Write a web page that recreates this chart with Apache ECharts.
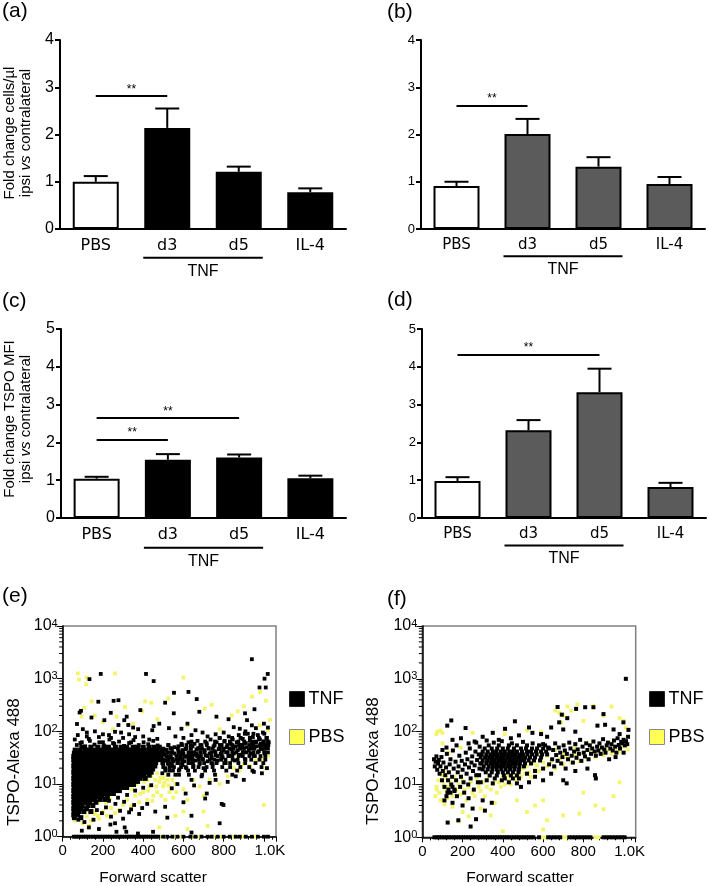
<!DOCTYPE html>
<html><head><meta charset="utf-8">
<script src="https://cdn.jsdelivr.net/npm/echarts@6/dist/echarts.min.js"></script>
<style>html,body{margin:0;padding:0;background:#fff}#c{width:709px;height:886px}</style>
</head><body><div id="c"></div>
<script>
// ---------------- DATA ----------------
const categories = ['PBS', 'd3', 'd5', 'IL-4'];
const aMean = [1.00, 2.14, 1.21, 0.78];
const aSem  = [0.12, 0.41, 0.11, 0.08];
const bMean = [0.91, 2.01, 1.32, 0.95];
const bSem  = [0.09, 0.32, 0.20, 0.15];
const cMean = [1.04, 1.54, 1.60, 1.05];
const cSem  = [0.05, 0.15, 0.08, 0.07];
const dMean = [0.98, 2.32, 3.33, 0.82];
const dSem  = [0.10, 0.27, 0.62, 0.11];
// significance: [fromCategory, toCategory, height]
const aSig = [['PBS', 'd3', 2.81]];
const bSig = [['PBS', 'd3', 2.60]];
const cSig = [['PBS', 'd3', 2.08], ['PBS', 'd5', 2.64]];
const dSig = [['PBS', 'd5', 4.32]];
const barTicksAB = [0, 1, 2, 3, 4];
const barTicksCD = [0, 1, 2, 3, 4, 5];
const logMinorTicks = [2,3,4,5,6,7,8,9,20,30,40,50,60,70,80,90,200,300,400,500,600,700,800,900,2000,3000,4000,5000,6000,7000,8000,9000];

// (e) TNF dense core, rows of [y, [x...]]
const eTnfRows = [
 [50, [95,140,175,205,228,262,290,318,350,372,400,430,455,480]],
 [44, [62,85,110,128,150,170,192,212,235,255,278,300,322,340,362,385,405,428,448,470,495]],
 [38.5, [58,75,95,115,133,152,172,190,210,228,248,268,288,306,325,345,365,384,403,422,442,460,480,500]],
 [33.5, [55,72,90,108,126,145,163,182,200,218,237,256,275,293,312,330,350,368,387,405,424,443,462,485]],
 [29, [55,70,88,105,123,141,160,178,196,215,233,252,270,289,307,326,344,363,381,400,418,437,456,478]],
 [25.5, [57,74,92,110,128,146,165,183,201,220,238,257,275,294,312,331,349,368,386,405,423,442,462]],
 [22, [55,71,89,107,125,143,161,180,198,216,235,253,272,290,309,327,346,364,383,401,420,440,458]],
 [19.3, [57,74,92,110,128,146,164,183,201,219,238,256,275,293,312,330,349,367,386,405,425,447]],
 [16.8, [55,72,90,108,126,144,162,180,198,217,235,254,272,291,309,328,346,365,383,402,421,440]],
 [14.7, [57,74,92,110,128,146,164,182,200,219,237,256,274,293,311,330,348,367,386,404,430]],
 [12.8, [55,72,90,108,126,144,162,180,198,216,235,253,272,290,309,327,346,365,385,410]],
 [11.2, [57,74,92,110,128,146,164,182,200,219,237,256,274,293,312,332,352,372]],
 [9.8, [55,72,90,108,126,144,162,180,198,216,235,253,272,290,310,330,352]],
 [8.6, [57,74,92,110,128,146,164,182,200,219,237,256,275,296,318]],
 [7.5, [55,72,90,108,126,144,162,180,198,216,236,258,282]],
 [6.6, [57,74,92,110,128,146,164,184,205,228,252]],
 [5.8, [55,72,90,108,128,150,172,196,222]],
 [5.1, [57,74,94,115,138,160,186,210]],
 [4.5, [55,70,88,112,135,165]],
 [3.9, [57,75,97,125,150]],
 [3.4, [55,72,92,118]],
 [3.0, [57,80,105,140]],
 [2.6, [55,74]],
 [2.3, [58,90]]
];
// (e) TNF band to the right of the core, rows of [y, [x...]]
const eTnfBandRows = [
 [90, [905,948,1002]],
 [75, [780,842,884,930,975,1012]],
 [64, [640,708,757,803,831,873,902,944,962,997,1020]],
 [55, [525,593,637,684,716,755,781,818,843,876,895,928,947,981,998,1022]],
 [47, [500,543,572,613,637,671,692,725,745,778,797,829,849,881,901,933,953,985,1005]],
 [40, [495,523,545,578,597,631,652,685,705,738,759,791,812,843,863,895,915,948,969,1001,1020]],
 [34, [492,518,537,568,587,618,637,668,687,719,739,771,791,823,843,875,895,928,949,983,1007]],
 [29, [498,525,545,575,595,625,645,677,697,731,753,787,809,845,869,908,937,978,1007]],
 [25, [495,523,542,573,593,625,647,681,703,739,765,803,832,873,907,958,997]],
 [21, [500,531,553,588,611,648,675,715,745,793,832,883,927,988]],
 [18, [510,548,577,623,657,708,752,813,867,943]],
 [15, [525,578,627,693,757,843]]
];
const eTnfBand = [[490,30],[495,42],[495,16],[500,24],[505,36],[505,28],[510,20],[515,45],[515,33],[520,28],[525,55],[525,24],[530,18],[535,32],[535,48],[540,40],[545,22],[545,30],[550,27],[555,50],[555,38],[560,15],[565,35],[565,29],[570,25],[575,42],[575,52],[580,19],[585,30],[585,36],[590,58],[595,23],[595,44],[600,38],[605,27],[605,33],[610,46],[615,20],[615,55],[620,33],[625,62],[625,39],[630,25],[635,40],[635,48],[640,30],[645,52],[645,34],[650,22],[655,36],[655,58],[660,28],[665,45],[665,38],[670,66],[675,33],[675,48],[680,24],[685,40],[690,55],[695,30],[700,20],[705,44],[710,35],[715,60],[720,27],[725,48],[730,38],[735,70],[740,31],[745,24],[750,52],[755,42],[760,35],[765,62],[770,28],[775,46],[780,75],[785,38],[790,55],[795,32],[800,44],[805,66],[810,25],[815,50],[820,40],[825,80],[830,34],[835,58],[840,46],[845,70],[850,38],[855,28],[860,52],[865,62],[870,44],[875,85],[880,36],[885,55],[890,48],[895,72],[900,40],[905,30],[910,60],[915,50],[920,90],[925,44],[930,66],[935,38],[940,56],[945,78],[950,48],[955,34],[960,62],[965,52],[970,85],[975,42],[980,70],[985,58],[990,46],[995,95],[1000,64],[1005,38],[1010,55],[1015,75],[1020,48],[1024,62]];
const eTnfSparse = [[940,2340],[189,1230],[133,980],[414,1230],[452,900],[1019,1230],[1003,1000],[1009,680],[978,680],[625,560],[553,540],[666,410],[277,390],[253,380],[177,365],[509,350],[386,253],[679,235],[239,225],[91,245],[84,228],[552,220],[953,263],[906,220],[916,163],[71,138],[143,183],[207,163],[277,132],[452,126],[318,190],[306,163],[326,132],[350,118],[375,110],[445,105],[480,140],[528,115],[590,112],[620,140],[660,105],[695,95],[764,190],[824,170],[850,120],[880,112],[908,100],[940,130],[960,115],[1000,140],[1020,118],[100,110],[120,95],[160,100],[180,78],[230,85],[260,98],[300,75],[330,88],[400,80],[430,70],[470,72],[560,80],[600,75],[640,85],[720,80],[760,88],[800,95],[130,72],[75,85],[95,62],[200,62],[250,60],[340,62],
 [70,55],[88,60],[112,52],[135,66],[158,56],[182,62],[205,54],[232,70],[256,58],[280,64],[305,53],[330,60],[352,68],[378,55],[402,62],[425,57],[450,66],[472,54],[120,80],[240,75],[360,78],[60,70],[200,88],[290,95],
 [170,3.2],[195,2.8],[215,3.6],[240,2.4],[262,4.2],[285,3.1],[305,4.6],[330,2.9],[355,4],[395,3.5],[230,4.8],[275,5.5],[320,6.2],[360,7.5],[400,8.5],[440,9.5],
 [509,3.7],[542,8.3],[611,6.6],[653,9.4],[716,6.6],[799,4],[708,5.3],[790,4.2],[600,4.5],[570,10],[640,12],[690,14],[730,10.5],[760,12],[820,11],[860,14],[900,12],[950,17],[990,16],[1015,20],[780,1.8],[640,2.5],[520,2.3],[460,3],[420,4.2],[380,2.7],[340,3.3],[300,2.2],[260,1.8],[78,2.1],[108,1.9],[153,2.1],[267,1.24],[316,1.24],[374,1.15],[449,1.24],[308,1.5],[237,1.7],[180,1.4],[130,1.5],[95,1.3],[640,1.2]];
const eTnfFloor = [55,67,79,91,103,115,127,139,151,163,175,187,199,211,223,235,247,259,271,283,295,307,319,331,343,355,367,379,391,403,415,427,439,451,463,475,500,520,545,570,600,635,660,690,720,740,770,800,830,860,880,910,940,970,1000,1020];
const ePbs = [[75,1260],[81,960],[119,1050],[116,780],[260,1260],[600,1050],[410,370],[440,350],[144,370],[108,280],[94,190],[525,420],[268,190],[940,455],[981,560],[1030,165],[706,270],[740,320],[840,200],[900,300],[870,240],[1010,380],[395,240],[310,290],[160,200],[200,150],[350,140],[470,170],[250,110],[620,130],[780,110],[1020,105],[980,130],
 [480,11],[500,9],[520,12],[540,8],[560,10],[470,7],[490,6],[510,5],[530,7],[550,5.5],[430,9],[450,6],[420,5],[400,7],[380,4.5],[360,6],[340,3.8],[320,5],[300,4],[280,3.2],[260,2.8],[240,3.5],[220,2.5],[200,3],[180,2.2],[160,2.7],[140,2.0],[120,2.4],[100,1.8],[90,3.2],[70,2.5],[130,1.6],[600,8],[620,5],[650,12],[680,9],[700,6],[730,12],[760,15],[780,10],[820,14],[850,20],[880,18],[900,24],[930,22],[960,28],[990,30],[1010,20],[1020,35],[840,30],[870,35],[910,40],[950,36],[980,45],[1000,4],[700,3],[600,3],[560,2.5],[480,1.5],[620,1.4],[720,1.6],
 [440,14],[470,16],[460,12],[500,13],[520,15],[420,12],[65,4],[80,3.6],[100,4.8],[120,3.3],[140,4.2],[160,5.5],[180,4.6],[200,6],[215,4.4],[235,5.2],[60,2.0],[85,2.3],[110,2.9],[150,3.0],[175,2.5],
 [345,8],[365,10],[385,6.5],[405,11],[425,7.5],[445,4.8],[465,9],[485,13],[505,10.5],[525,9.5],[545,12],[565,7],
 [480,1],[510,1],[560,1],[590,1],[640,1],[680,1],[750,1],[790,1],[850,1],[890,1],[960,1]];

// (f)
const fTnfRows = [
 [55, [330,380,430,470,520,580,610]],
 [48, [310,345,372,400,425,455,490,515,545,570,600,630]],
 [42, [300,325,350,368,390,410,432,450,470,495,520,540,565,590,615]],
 [37, [295,318,338,356,374,392,410,428,446,464,482,500,522,545,568,595,620]],
 [32.5, [290,312,332,350,368,386,404,422,440,458,476,494,512,535,560,590]],
 [28.5, [300,322,342,360,378,396,414,432,450,468,486,505,528,555,585]],
 [25, [295,318,338,356,374,392,410,428,446,465,485,510,540]],
 [22, [305,330,350,368,386,404,422,440,460,482,505]],
 [19.3, [300,325,348,370,392,414,436,458,480]],
 [17, [315,345,375,400,425,450,478]],
 [14.8, [335,370,405,440,470]],
 [13, [360,410,450]]
];
const fTnfSparse = [[58,30],[62,22],[66,27],[70,34],[74,19],[78,25],[82,29],[86,16],[90,22],[95,33],[98,12],[102,18],[105,26],[110,9],[114,15],[118,21],[122,38],[125,7],[128,12],[132,17],[136,24],[140,30],[144,10],[148,14],[152,44],[156,20],[160,8],[165,27],[168,12],[172,6],[176,17],[180,22],[184,35],[188,9],[192,14],[196,28],[200,19],[205,11],[208,7],[212,24],[216,40],[220,16],[224,30],[228,10],[232,21],[236,48],[240,13],[244,26],[248,34],[252,18],[256,8],[260,23],[264,42],[268,15],[272,29],[276,11],[280,37],[284,20],[288,25],[130,8],[140,7],[150,9],[120,6],[160,7.5],[150,4.5],[110,5],
 [126,1.9],[179,2.1],[240,1.6],[267,2.2],[311,3.2],[345,4.5],[250,3.5],[200,4],[300,5],[230,5.5],
 [645,30],[650,45],[655,22],[660,60],[665,36],[672,28],[678,50],[685,40],[690,25],[696,33],[702,55],[708,44],[712,20],[718,38],[724,30],[730,62],[736,48],[742,35],[748,26],[754,42],[760,58],[766,32],[772,46],[778,38],[784,70],[790,28],[796,52],[802,40],[808,34],[814,60],[820,45],[826,30],[832,55],[838,38],[844,48],[850,65],[856,42],[862,35],[868,52],[874,44],[880,60],[886,38],[892,50],[898,72],[904,46],[910,40],[916,55],[922,62],[928,30],[934,48],[940,58],[946,44],[952,68],[958,52],[964,40],[970,75],[976,56],[982,48],[988,64],[994,60],[1000,70],[1006,55],[1012,66],[1018,58],[1022,80],
 [700,12],[717,10.5],[858,15],[862,13],[760,18],[820,20],[640,16],[600,12],[560,14],[530,11],[490,9],[470,10.5],[1000,40],[960,33],
 [268,62],[285,52],[320,68],[355,62],[395,66],[445,60],[500,64],[548,60],[600,58],[625,50],[282,15],[290,11],[320,12],[350,10.5],[395,12],[430,11],[480,13],[520,16],[560,18],[600,20],[630,24],
 [1011,1000],[672,293],[693,210],[764,270],[809,290],[850,290],[900,215],[908,135],[999,150],[1024,108],[124,130],[144,163],[215,117],[460,157],[411,113],[530,120],[547,95],[192,75],[680,150],[720,180],[640,120],[700,110],[760,100],[590,90],[620,80],[480,85],[440,75],[380,70],[350,95],[300,80],[260,65],[230,60],[170,55],[120,50],[100,45],[150,70],[870,130],[950,110],[980,90]];
const fTnfFloor = [60,72,84,96,108,120,132,144,156,168,180,192,204,216,228,240,252,264,276,288,300,312,324,336,348,360,372,384,396,408,420,432,444,456,468,480,492,504,516,528,540,552,580,625,640,655,670,685,730,745,760,775,790,805,820,835,900,915,930,945,960,975,990,1005];
const fPbs = [[65,6],[70,9],[80,12],[85,7],[95,15],[100,5],[105,10],[110,17],[115,8],[120,13],[125,5.5],[130,9],[140,11],[150,6],[160,14],[170,8],[180,10],[190,6.5],[200,12],[210,8],[220,5],[230,9],[240,11],[250,7],[260,6],[270,13],[280,9],[290,7.5],[300,11],[310,6],[320,9],[330,14],[340,8],[350,10],[360,12],[370,7],[380,11],[390,9],[400,13],[410,10],[420,15],[430,12],[440,10],[450,16],[460,13],[470,11],[480,18],[490,14],[500,20],[510,16],[520,22],[530,17],[540,14],[550,25],[560,19],[570,23],[580,18],[600,26],[620,22],[640,28],[660,20],[680,30],[700,24],[720,32],[740,26],[760,35],[780,28],[800,38],[820,30],[840,40],[860,33],[880,42],[900,36],[920,45],[940,38],[960,48],[980,42],[1000,52],[1020,46],
 [70,90],[75,100],[100,60],[130,40],[190,50],[250,95],[380,70],[410,90],[520,105],[590,100],[660,250],[680,230],[700,200],[690,150],[720,300],[740,250],[770,330],[800,160],[850,310],[900,200],[940,300],[980,180],[1000,160],[1010,120],[90,105],[100,95],
 [180,2.0],[400,1.3],[600,1.4],[290,3.5],[340,2.6],[360,4.5],[470,5],[520,3],[560,4],[600,5],[620,2.1],[700,2.6],[780,2.8],[800,7],[860,4],[900,3.4],[950,6],[980,11],[200,3],[230,2.5],[150,3.8],[110,4.2],[90,5],[72,8],
 [420,30],[450,24],[500,35],[540,28],[580,40],[620,35],[660,45],[700,38],[760,50],[820,60],[880,55],[940,60],[1000,62],
 [595,1],[610,1],[700,1],[715,1],[860,1],[875,1]];

// ---------------- HELPERS ----------------
const FONT = 'Liberation Sans';
const rowsToPts = rows => rows.flatMap(r => r[1].map(x => [x, r[0]]));
const floorPts = xs => xs.map(x => [x, 1]);
const eTnfCore = rowsToPts(eTnfRows);
const eTnf = rowsToPts(eTnfBandRows).concat(eTnfBand, eTnfSparse, floorPts(eTnfFloor));
const fTnf = rowsToPts(fTnfRows).concat(fTnfSparse, floorPts(fTnfFloor));

const grids = [
  {left: 60, top: 40, width: 286, height: 189},
  {left: 421, top: 40, width: 284, height: 189},
  {left: 61, top: 329, width: 285, height: 189},
  {left: 422, top: 329, width: 284, height: 189},
  {left: 62.7, top: 626, width: 213.3, height: 210.7, show: true, borderColor: '#808080', borderWidth: 1.5},
  {left: 422.3, top: 626, width: 213.4, height: 211.3, show: true, borderColor: '#808080', borderWidth: 1.5}
];

function catX(i, fs) {
  return {type: 'category', gridIndex: i, data: categories,
    axisLine: {lineStyle: {color: '#000', width: 2}},
    axisTick: {alignWithLabel: true, length: 5, lineStyle: {color: '#000', width: 2}},
    axisLabel: {color: '#000', fontFamily: 'DejaVu Sans', fontSize: fs, margin: 9}};
}
function valY(i, ticks, fs) {
  return {type: 'value', gridIndex: i, min: ticks[0], max: ticks[ticks.length - 1], interval: 1,
    splitLine: {show: false},
    axisLine: {show: true, lineStyle: {color: '#000', width: 2}},
    axisTick: {show: true, length: 5, lineStyle: {color: '#000', width: 2}},
    axisLabel: {color: '#000', fontFamily: FONT, fontSize: fs, margin: 6}};
}
function scatX(i) {
  return {type: 'value', gridIndex: i, min: 0, max: 1060, interval: 200,
    splitLine: {show: false},
    axisLine: {show: true, lineStyle: {color: '#000', width: 1.5}},
    axisTick: {show: true, length: 5, lineStyle: {color: '#000', width: 1}},
    minorTick: {show: true, splitNumber: 5, length: 3, lineStyle: {color: '#000', width: 1}},
    axisLabel: {color: '#000', fontFamily: FONT, fontSize: 15, margin: 7, showMaxLabel: false,
      formatter: v => v === 1000 ? '{k|1.0K}' : (v % 200 === 0 ? String(v) : ''),
      rich: {k: {fontFamily: FONT, fontSize: 15, color: '#000', padding: [0, 0, 0, 12]}}}};
}
function logY(i) {
  return {type: 'log', logBase: 10, gridIndex: i, min: 1, max: 10000,
    splitLine: {show: false},
    axisLine: {show: true, lineStyle: {color: '#000', width: 1.5}},
    axisTick: {show: true, length: 6, lineStyle: {color: '#000', width: 1}},
    axisLabel: {color: '#000', margin: 5,
      formatter: v => '{b|10}{s|' + Math.round(Math.log10(v)) + '}',
      rich: {b: {fontFamily: FONT, fontSize: 16, color: '#000'},
             s: {fontFamily: FONT, fontSize: 11, color: '#000', verticalAlign: 'top', lineHeight: 10}}}};
}
function barSeries(i, means, sigs, fill) {
  return {type: 'bar', xAxisIndex: i, yAxisIndex: i, barWidth: 46, z: 3,
    data: means.map((m, k) => ({value: m, itemStyle: {color: k === 0 ? '#fff' : fill}})),
    itemStyle: {borderColor: '#000', borderWidth: 2},
    markLine: {silent: true, symbol: ['none', 'none'], animation: false,
      lineStyle: {color: '#000', width: 2, type: 'solid'},
      label: {show: true, position: 'insideMiddleTop', formatter: '**', color: '#000', fontFamily: FONT, fontSize: 12, distance: 1},
      emphasis: {disabled: true},
      data: sigs.map(s => [{coord: [s[0], s[2]]}, {coord: [s[1], s[2]]}])}};
}
function errSeries(i, means, sems) {
  return {type: 'custom', xAxisIndex: i, yAxisIndex: i, z: 2, silent: true,
    data: means.map((m, k) => [k, m, m + sems[k]]),
    renderItem(params, api) {
      const p0 = api.coord([api.value(0), api.value(1)]);
      const p1 = api.coord([api.value(0), api.value(2)]);
      return {type: 'group', children: [
        {type: 'line', shape: {x1: p0[0], y1: p0[1], x2: p1[0], y2: p1[1]}, style: {stroke: '#000', lineWidth: 2}},
        {type: 'line', shape: {x1: p1[0] - 12, y1: p1[1], x2: p1[0] + 12, y2: p1[1]}, style: {stroke: '#000', lineWidth: 2}}]};
    }};
}
function minorLogTicks(i) {
  return {type: 'custom', xAxisIndex: i, yAxisIndex: i, silent: true, clip: false, z: 1,
    data: logMinorTicks.map(v => [0, v]),
    renderItem(params, api) {
      const c = api.coord([0, api.value(1)]);
      return {type: 'line', shape: {x1: c[0] - 3.5, y1: c[1], x2: c[0], y2: c[1]}, style: {stroke: '#000', lineWidth: 1}};
    }};
}
function scat(i, name, data, color, size) {
  return {type: 'scatter', name, xAxisIndex: i, yAxisIndex: i, data, symbol: 'rect', symbolSize: size || 3.8,
    itemStyle: {color, opacity: 1}, silent: true, emphasis: {disabled: true}, large: false};
}
function legendAt(left) {
  return {left, top: 690, orient: 'vertical', itemWidth: 15, itemHeight: 15, itemGap: 20, padding: 0,
    selectedMode: false, icon: 'rect',
    textStyle: {fontFamily: FONT, fontSize: 18, color: '#000', padding: [0, 0, 0, -1]},
    data: [{name: 'TNF', itemStyle: {color: '#000', borderColor: '#222', borderWidth: 1}},
           {name: 'PBS', itemStyle: {color: '#ffff55', borderColor: '#8a8a8a', borderWidth: 1}}]};
}

const chart = echarts.init(document.getElementById('c'), null, {renderer: 'canvas'});
chart.setOption({
  animation: false,
  backgroundColor: '#fff',
  textStyle: {fontFamily: FONT},
  grid: grids,
  xAxis: [catX(0, 16), catX(1, 15), catX(2, 16), catX(3, 15), scatX(4), scatX(5)],
  yAxis: [valY(0, barTicksAB, 16), valY(1, barTicksAB, 13), valY(2, barTicksCD, 16), valY(3, barTicksCD, 13), logY(4), logY(5)],
  legend: [legendAt(289), legendAt(649)],
  series: [
    errSeries(0, aMean, aSem), barSeries(0, aMean, aSig, '#000'),
    errSeries(1, bMean, bSem), barSeries(1, bMean, bSig, '#5b5b5b'),
    errSeries(2, cMean, cSem), barSeries(2, cMean, cSig, '#000'),
    errSeries(3, dMean, dSem), barSeries(3, dMean, dSig, '#5b5b5b'),
    scat(4, 'PBS', ePbs, '#f4f46a'), scat(4, 'TNF', eTnfCore, '#000', 5), scat(4, 'TNF', eTnf, '#000'), minorLogTicks(4),
    scat(5, 'PBS', fPbs, '#f4f46a'), scat(5, 'TNF', fTnf, '#000', 4), minorLogTicks(5)
  ]
});

// ---------------- ANNOTATIONS ----------------
const g = [];
function txt(x, y, text, fs, extra) {
  g.push(Object.assign({type: 'text', x, y, silent: true,
    style: Object.assign({text, fontSize: fs, fontFamily: FONT, fill: '#000'}, extra || {})}));
}
txt(2, 1, '(a)', 21);
txt(387, 2, '(b)', 21);
txt(2, 291, '(c)', 21);
txt(387, 290, '(d)', 21);
txt(2, 586, '(e)', 21);
txt(387, 589, '(f)', 21);
const yRich = {n: {fontSize: 15, fontFamily: FONT, fill: '#000', lineHeight: 16},
               i: {fontSize: 15, fontFamily: FONT, fontStyle: 'italic', fill: '#000', lineHeight: 16}};
g.push({type: 'text', x: 18, y: 133, rotation: Math.PI / 2, silent: true,
  style: {text: '{n|Fold change cells/µl}\n{n|ipsi }{i|vs}{n| contralateral}', rich: yRich, align: 'center', verticalAlign: 'middle'}});
g.push({type: 'text', x: 18, y: 419, rotation: Math.PI / 2, silent: true,
  style: {text: '{n|Fold change TSPO MFI}\n{n|ipsi }{i|vs}{n| contralateral}', rich: yRich, align: 'center', verticalAlign: 'middle'}});
g.push({type: 'text', x: 14, y: 762, rotation: Math.PI / 2, silent: true,
  style: {text: 'TSPO-Alexa 488', fontSize: 17, fontFamily: FONT, fill: '#000', align: 'center', verticalAlign: 'middle'}});
g.push({type: 'text', x: 373, y: 761, rotation: Math.PI / 2, silent: true,
  style: {text: 'TSPO-Alexa 488', fontSize: 17, fontFamily: FONT, fill: '#000', align: 'center', verticalAlign: 'middle'}});
txt(153, 878, 'Forward scatter', 15.5, {align: 'center', verticalAlign: 'middle'});
txt(520, 878, 'Forward scatter', 15.5, {align: 'center', verticalAlign: 'middle'});

function tnf(i, dy) {
  const half = 24;
  const x1 = chart.convertToPixel({xAxisIndex: i}, 'd3') - half;
  const x2 = chart.convertToPixel({xAxisIndex: i}, 'd5') + half;
  const y = grids[i].top + grids[i].height + dy;
  g.push({type: 'line', silent: true, shape: {x1, y1: y, x2, y2: y}, style: {stroke: '#000', lineWidth: 2}});
  txt((x1 + x2) / 2, y + 13.5, 'TNF', 16, {align: 'center', verticalAlign: 'middle'});
}
tnf(0, 28.7); tnf(1, 27.3); tnf(2, 29.7); tnf(3, 27.5);
chart.setOption({graphic: g});
</script>
</body></html>
